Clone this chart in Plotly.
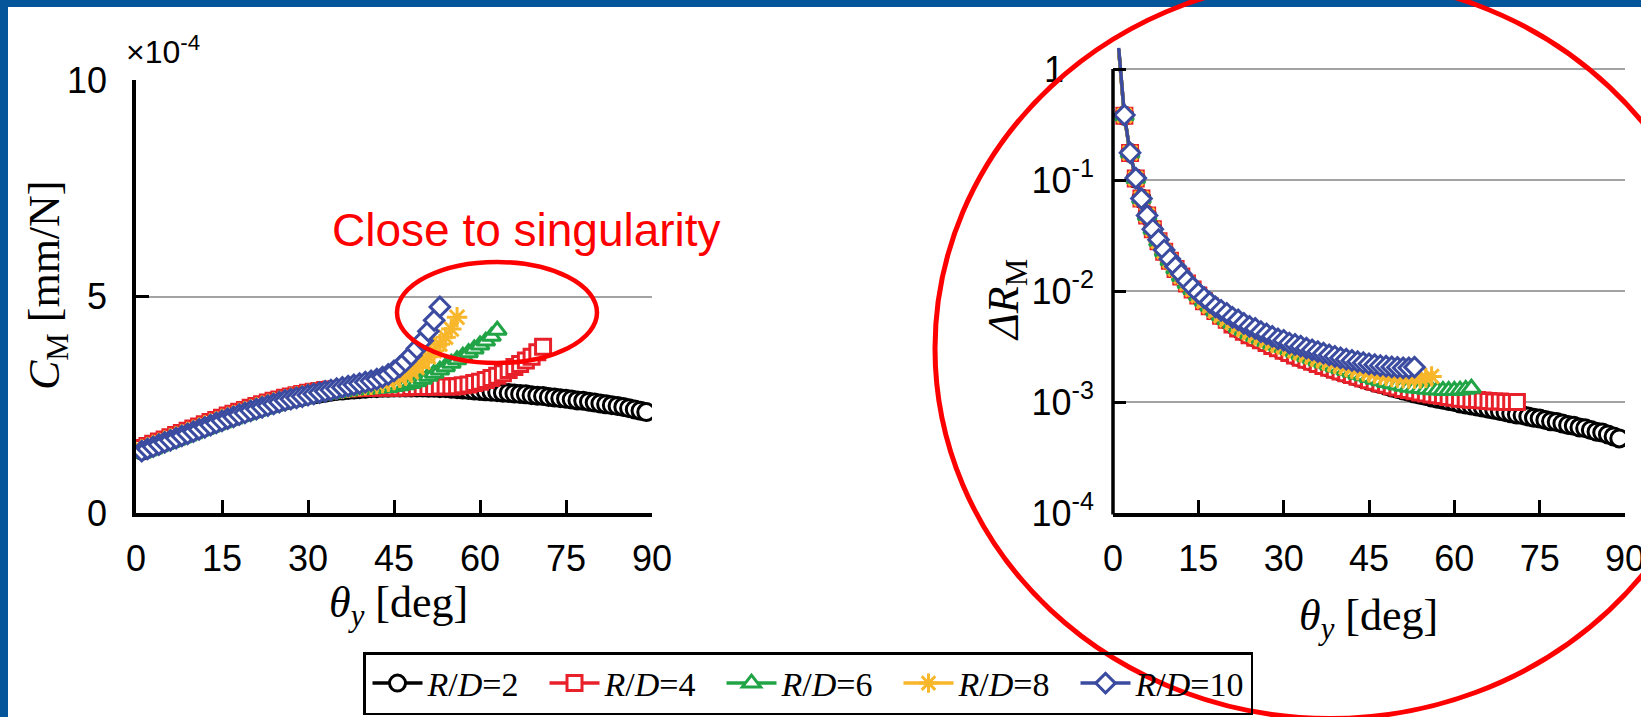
import plotly.graph_objects as go

# ---------------------------------------------------------------- data
# rotation angle theta_y [deg], one sample per degree
theta_rd2 = list(range(1, 90))
theta_rd4 = list(range(1, 72))
theta_rd6 = list(range(1, 64))
theta_rd8 = list(range(1, 57))
theta_rd10 = list(range(1, 54))

# compliance C_M in units of 1e-4 mm/N
cm_rd2 = [1.44, 1.49, 1.54, 1.59, 1.64, 1.69, 1.74, 1.79, 1.84, 1.89,
          1.94, 1.99, 2.04, 2.09, 2.14, 2.19, 2.23, 2.28, 2.32, 2.37,
          2.41, 2.45, 2.49, 2.53, 2.56, 2.60, 2.63, 2.66, 2.69, 2.72,
          2.74, 2.76, 2.78, 2.80, 2.82, 2.83, 2.84, 2.85, 2.86, 2.87,
          2.88, 2.88, 2.89, 2.89, 2.90, 2.90, 2.90, 2.90, 2.90, 2.90,
          2.89, 2.89, 2.88, 2.88, 2.87, 2.86, 2.85, 2.84, 2.83, 2.82,
          2.81, 2.80, 2.79, 2.78, 2.77, 2.76, 2.75, 2.74, 2.72, 2.71,
          2.70, 2.68, 2.67, 2.65, 2.64, 2.62, 2.60, 2.59, 2.57, 2.55,
          2.53, 2.51, 2.49, 2.47, 2.45, 2.42, 2.39, 2.36, 2.33]
cm_rd4 = [1.50, 1.55, 1.60, 1.65, 1.70, 1.75, 1.80, 1.85, 1.90, 1.95,
          2.00, 2.05, 2.10, 2.15, 2.20, 2.25, 2.29, 2.34, 2.38, 2.43,
          2.47, 2.51, 2.55, 2.59, 2.62, 2.66, 2.69, 2.72, 2.75, 2.78,
          2.80, 2.82, 2.84, 2.85, 2.86, 2.87, 2.88, 2.88, 2.89, 2.89,
          2.89, 2.90, 2.90, 2.90, 2.90, 2.90, 2.90, 2.91, 2.91, 2.91,
          2.91, 2.91, 2.92, 2.92, 2.92, 2.93, 2.95, 2.97, 3.00, 3.03,
          3.07, 3.12, 3.17, 3.23, 3.30, 3.37, 3.44, 3.52, 3.61, 3.71, 3.84]
cm_rd6 = [1.38, 1.43, 1.48, 1.53, 1.58, 1.63, 1.68, 1.73, 1.78, 1.83,
          1.88, 1.93, 1.98, 2.03, 2.08, 2.13, 2.17, 2.22, 2.26, 2.31,
          2.35, 2.39, 2.43, 2.47, 2.51, 2.55, 2.58, 2.61, 2.64, 2.67,
          2.70, 2.72, 2.74, 2.76, 2.78, 2.80, 2.82, 2.84, 2.85, 2.86,
          2.87, 2.88, 2.89, 2.90, 2.92, 2.94, 2.96, 2.99, 3.03, 3.09,
          3.16, 3.23, 3.30, 3.38, 3.46, 3.54, 3.62, 3.70, 3.79, 3.88,
          3.97, 4.08, 4.22]
cm_rd8 = [1.47, 1.52, 1.57, 1.62, 1.67, 1.72, 1.77, 1.82, 1.87, 1.92,
          1.97, 2.02, 2.07, 2.12, 2.17, 2.22, 2.26, 2.31, 2.35, 2.40,
          2.44, 2.48, 2.52, 2.56, 2.59, 2.63, 2.66, 2.69, 2.72, 2.75,
          2.77, 2.79, 2.81, 2.83, 2.85, 2.87, 2.89, 2.91, 2.93, 2.95,
          2.96, 2.98, 3.00, 3.03, 3.07, 3.12, 3.18, 3.26, 3.36, 3.48,
          3.61, 3.75, 3.90, 4.06, 4.25, 4.52]
cm_rd10 = [1.43, 1.48, 1.53, 1.58, 1.63, 1.68, 1.73, 1.78, 1.83, 1.88,
           1.93, 1.98, 2.03, 2.08, 2.13, 2.18, 2.22, 2.27, 2.31, 2.36,
           2.40, 2.44, 2.48, 2.52, 2.56, 2.60, 2.63, 2.66, 2.69, 2.72,
           2.75, 2.78, 2.81, 2.84, 2.87, 2.90, 2.93, 2.96, 2.99, 3.02,
           3.05, 3.09, 3.14, 3.20, 3.28, 3.38, 3.50, 3.64, 3.80, 3.98,
           4.20, 4.45, 4.76]

# error ratio Delta R_M (dimensionless)
dr_rd2 = [1.5, 0.38, 0.175, 0.103, 0.068, 0.048, 0.036, 0.028, 0.0226, 0.0187,
          0.0158, 0.0135, 0.0117, 0.0103, 0.0091, 0.0081, 0.0073, 0.0066, 0.0060, 0.0055,
          0.0050, 0.0046, 0.0043, 0.0040, 0.0038, 0.0036, 0.0034, 0.0032, 0.00305, 0.0029,
          0.00276, 0.00263, 0.00251, 0.0024, 0.0023, 0.0022, 0.00211, 0.00203, 0.00195, 0.00188,
          0.00181, 0.00174, 0.00167, 0.00161, 0.00155, 0.0015, 0.00145, 0.0014, 0.00135, 0.00131,
          0.00127, 0.00123, 0.00119, 0.00116, 0.00113, 0.0011, 0.00107, 0.00105, 0.00102, 0.001,
          0.00097, 0.00095, 0.00093, 0.00091, 0.00089, 0.00087, 0.00085, 0.00083, 0.00081, 0.00079,
          0.00077, 0.00076, 0.00074, 0.00072, 0.00071, 0.00069, 0.00067, 0.00066, 0.00064, 0.00062,
          0.00061, 0.00059, 0.00058, 0.00056, 0.00054, 0.00053, 0.00051, 0.00049, 0.00047]
dr_rd4 = [1.5, 0.38, 0.175, 0.103, 0.068, 0.048, 0.036, 0.028, 0.0226, 0.0187,
          0.0158, 0.0135, 0.0117, 0.0103, 0.0091, 0.0081, 0.0073, 0.0066, 0.0060, 0.0055,
          0.0050, 0.0046, 0.0043, 0.0040, 0.0038, 0.0036, 0.0034, 0.0032, 0.00305, 0.0029,
          0.00276, 0.00263, 0.00251, 0.0024, 0.0023, 0.0022, 0.00211, 0.00203, 0.00195, 0.00188,
          0.00182, 0.00175, 0.00169, 0.00163, 0.00157, 0.00152, 0.00147, 0.00143, 0.00139, 0.00135,
          0.00131, 0.00128, 0.00125, 0.00122, 0.00119, 0.00117, 0.00115, 0.00113, 0.00111, 0.00109,
          0.00107, 0.00106, 0.00105, 0.00104, 0.00103, 0.00102, 0.00101, 0.00101, 0.001, 0.001, 0.001]
dr_rd6 = [1.5, 0.38, 0.175, 0.103, 0.068, 0.048, 0.036, 0.028, 0.0226, 0.0187,
          0.0158, 0.0135, 0.0117, 0.0103, 0.0091, 0.0081, 0.0073, 0.0066, 0.0060, 0.0055,
          0.0051, 0.0047, 0.0044, 0.0041, 0.0039, 0.0037, 0.0035, 0.0033, 0.0032, 0.0031,
          0.00295, 0.00281, 0.00268, 0.00256, 0.00245, 0.00234, 0.00224, 0.00215, 0.00207, 0.00199,
          0.00192, 0.00185, 0.00178, 0.00172, 0.00166, 0.0016, 0.00155, 0.0015, 0.00146, 0.00142,
          0.00139, 0.00136, 0.00134, 0.00132, 0.0013, 0.00129, 0.00128, 0.00127, 0.00127, 0.00127,
          0.00128, 0.0013, 0.00133]
dr_rd8 = [1.5, 0.38, 0.175, 0.103, 0.068, 0.048, 0.036, 0.028, 0.0226, 0.0187,
          0.0158, 0.0135, 0.0117, 0.0103, 0.0091, 0.0081, 0.0073, 0.0066, 0.0060, 0.0055,
          0.0052, 0.0048, 0.0045, 0.0042, 0.0040, 0.0038, 0.0036, 0.0034, 0.0033, 0.0032,
          0.00305, 0.00292, 0.0028, 0.00268, 0.00257, 0.00247, 0.00238, 0.00229, 0.00221, 0.00214,
          0.00207, 0.002, 0.00194, 0.00189, 0.00184, 0.00179, 0.00175, 0.00172, 0.00169, 0.00166,
          0.00164, 0.00163, 0.00162, 0.00163, 0.00165, 0.0017]
dr_rd10 = [1.55, 0.385, 0.176, 0.104, 0.068, 0.048, 0.036, 0.029, 0.0234, 0.0194,
           0.0166, 0.0142, 0.0123, 0.0108, 0.0096, 0.0087, 0.0079, 0.0072, 0.0067, 0.0063,
           0.0058, 0.0055, 0.0051, 0.0048, 0.0046, 0.0043, 0.0041, 0.0039, 0.0037, 0.0036,
           0.0034, 0.0033, 0.00318, 0.00306, 0.00295, 0.00285, 0.00275, 0.00266, 0.00258, 0.0025,
           0.00243, 0.00237, 0.00231, 0.00226, 0.00221, 0.00217, 0.00213, 0.0021, 0.00207, 0.00205,
           0.00203, 0.00203, 0.00206]

series_names = ["<i>R</i>/<i>D</i>=2", "<i>R</i>/<i>D</i>=4", "<i>R</i>/<i>D</i>=6",
                "<i>R</i>/<i>D</i>=8", "<i>R</i>/<i>D</i>=10"]
x_ticks = [0, 15, 30, 45, 60, 75, 90]
cm_ticks = [0, 5, 10]
dr_ticks = [1e-4, 1e-3, 1e-2, 1e-1, 1]
dr_ticktext = ["10<sup>-4</sup>", "10<sup>-3</sup>", "10<sup>-2</sup>",
               "10<sup>-1</sup>", "1\u00a0\u00a0\u00a0"]

# ---------------------------------------------------------------- styling
W, H = 1641, 717
SANS = "Liberation Sans, Arial, sans-serif"
SERIF = "Liberation Serif, Times New Roman, serif"
colors = ["#000000", "#e8202a", "#21a446", "#f8b62a", "#3b4ba0"]
symbols = ["circle", "square", "triangle-up", "asterisk-open", "diamond"]
msizes = [17, 15, 16, 17, 15]


def fx(p):
    return p / W


def fy(p):
    return 1 - p / H


thetas = [theta_rd2, theta_rd4, theta_rd6, theta_rd8, theta_rd10]
cms = [cm_rd2, cm_rd4, cm_rd6, cm_rd8, cm_rd10]
drs = [dr_rd2, dr_rd4, dr_rd6, dr_rd8, dr_rd10]

fig = go.Figure()


def marker_style(i, opacity=None):
    open_sym = symbols[i].endswith("open")
    m = dict(symbol=symbols[i], size=msizes[i],
             color=colors[i] if open_sym else "white",
             line=dict(color=colors[i], width=3))
    if opacity is not None:
        m["opacity"] = opacity
    return m


for i in range(5):
    fig.add_trace(go.Scatter(
        x=thetas[i], y=cms[i], mode="lines+markers", name=series_names[i],
        line=dict(color=colors[i], width=3.5),
        marker=marker_style(i), xaxis="x", yaxis="y", showlegend=True))

for i in range(5):
    # first sample lies above the top of the axis: keep its line, hide its marker
    op = [0] + [1] * (len(drs[i]) - 1)
    fig.add_trace(go.Scatter(
        x=thetas[i], y=drs[i], mode="lines+markers", name=series_names[i],
        line=dict(color=colors[i], width=3.5),
        marker=marker_style(i, op), xaxis="x2", yaxis="y2", showlegend=False))

axis_common = dict(ticks="inside", ticklen=13, tickwidth=2.5, tickcolor="black",
                   tickfont=dict(family=SANS, size=36, color="black"),
                   zeroline=False, ticklabeloverflow="allow")

log_top = 0.3
fig.update_layout(
    width=W, height=H,
    margin=dict(l=0, r=0, t=0, b=0, autoexpand=False),
    paper_bgcolor="white", plot_bgcolor="white",
    xaxis=dict(domain=[fx(136), fx(652)], range=[0, 90], tickvals=x_ticks,
               showline=True, linewidth=3.5, linecolor="black", showgrid=False,
               anchor="y", ticklabelstandoff=11, **axis_common),
    yaxis=dict(domain=[fy(513), fy(80)], range=[0, 10], tickvals=cm_ticks,
               showline=True, linewidth=3.5, linecolor="black",
               showgrid=True, gridcolor="#a3a3a3", gridwidth=2,
               anchor="x", ticklabelstandoff=18, **axis_common),
    xaxis2=dict(domain=[fx(1113), fx(1625)], range=[0, 90], tickvals=x_ticks,
                showline=True, linewidth=3.5, linecolor="black", showgrid=False,
                anchor="y2", ticklabelstandoff=11, **axis_common),
    yaxis2=dict(domain=[fy(513), fy(69 - log_top * 111)], type="log",
                range=[-4, log_top], tickvals=dr_ticks, ticktext=dr_ticktext,
                showline=False, showgrid=True, gridcolor="#a3a3a3", gridwidth=2,
                anchor="x2", ticklabelstandoff=18, **axis_common),
    legend=dict(orientation="h", x=fx(363), y=fy(652), xanchor="left", yanchor="top",
                bgcolor="rgba(0,0,0,0)", bordercolor="black", borderwidth=2.5,
                font=dict(family=SERIF, size=34, color="black"),
                itemwidth=50, entrywidth=110, entrywidthmode="pixels",
                indentation=2, tracegroupgap=0),
    showlegend=True,
)

# axis titles and captions
ann = [
    dict(x=fx(47), y=fy(285), text="<i>C</i><sub>M</sub> [mm/N]", textangle=-90,
         font=dict(family=SERIF, size=44, color="black")),
    dict(x=fx(398), y=fy(605), text="<i>θ</i><sub><i>y</i></sub> [deg]",
         font=dict(family=SERIF, size=44, color="black")),
    dict(x=fx(1006), y=fy(300), text="<i>ΔR</i><sub>M</sub>", textangle=-90,
         font=dict(family=SERIF, size=44, color="black")),
    dict(x=fx(1368), y=fy(618), text="<i>θ</i><sub><i>y</i></sub> [deg]",
         font=dict(family=SERIF, size=44, color="black")),
    dict(x=fx(124), y=fy(50), xanchor="left", text="×10<sup>-4</sup>",
         font=dict(family=SANS, size=32, color="black")),
    dict(x=fx(526), y=fy(230), text="Close to singularity",
         font=dict(family=SANS, size=46, color="#ff0000")),
]
for a in ann:
    a.update(xref="paper", yref="paper", showarrow=False)
    a.setdefault("xanchor", "center")
    a.setdefault("yanchor", "middle")
fig.update_layout(annotations=ann)

shapes = [
    # frame bars
    dict(type="rect", x0=0, x1=1, y0=fy(7), y1=1, fillcolor="#05559b", line_width=0),
    dict(type="rect", x0=0, x1=fx(8), y0=0, y1=1, fillcolor="#05559b", line_width=0),
    # vertical axis line of the log panel, from 1e-4 up to 1
    dict(type="line", x0=fx(1113), x1=fx(1113), y0=fy(514.5), y1=fy(69),
         line=dict(color="black", width=3.5)),
    # highlight ellipses
    dict(type="circle", x0=fx(397), x1=fx(597), y0=fy(363), y1=fy(262),
         line=dict(color="#ff0000", width=4.5)),
    dict(type="circle", x0=fx(935), x1=fx(1725), y0=fy(718.5), y1=fy(-21.5),
         line=dict(color="#ff0000", width=5)),
]
for s in shapes:
    s.update(xref="paper", yref="paper", layer="above")
fig.update_layout(shapes=shapes)

fig.write_html("out.html", config={"displayModeBar": False},
               post_script="document.body.style.margin='0';")
